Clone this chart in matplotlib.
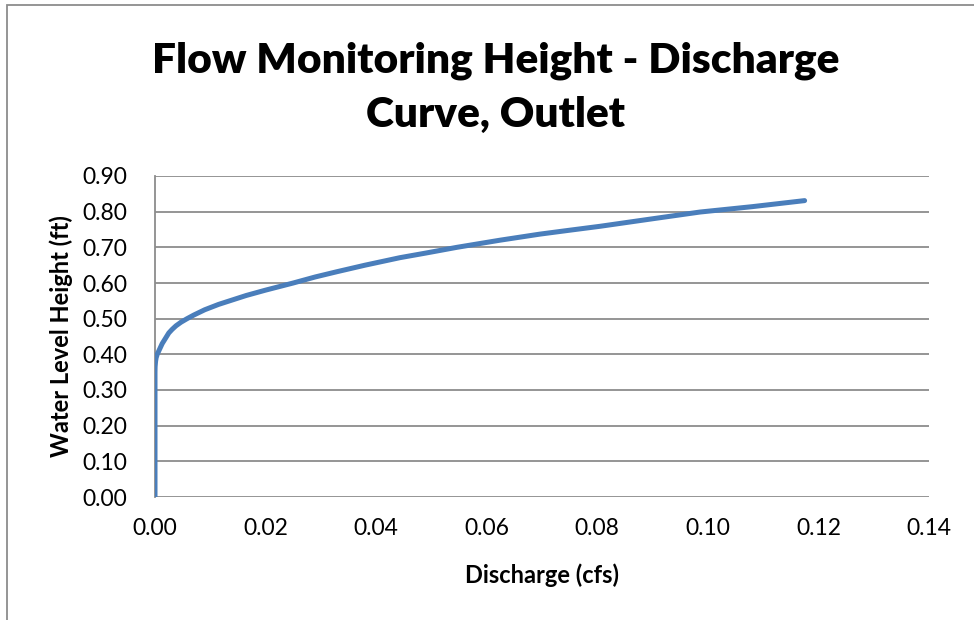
import matplotlib
matplotlib.use("Agg")
import matplotlib.pyplot as plt
from matplotlib.patches import Rectangle

# stage-discharge readings for the outlet
discharge = [0.0, 0.0, 0.00002, 0.0001, 0.0002, 0.0004, 0.0007, 0.0010, 0.0013,
             0.0017, 0.0021, 0.0025, 0.0031, 0.0038, 0.0047, 0.0058, 0.0070,
             0.0090, 0.0115, 0.0135, 0.0165, 0.0200, 0.0250, 0.0290, 0.0330,
             0.0380, 0.0443, 0.0490, 0.0546, 0.0624, 0.0696, 0.0750, 0.0805,
             0.0895, 0.0986, 0.1080, 0.1175]
height = [0.00, 0.35, 0.365, 0.38, 0.39, 0.40, 0.41, 0.42, 0.43,
          0.44, 0.45, 0.46, 0.47, 0.48, 0.49, 0.50, 0.51,
          0.525, 0.54, 0.55, 0.565, 0.58, 0.60, 0.617, 0.632,
          0.65, 0.671, 0.684, 0.70, 0.72, 0.737, 0.748, 0.759,
          0.779, 0.799, 0.814, 0.831]

xticks = [0.00, 0.02, 0.04, 0.06, 0.08, 0.10, 0.12, 0.14]
yticks = [0.0, 0.1, 0.2, 0.3, 0.4, 0.5, 0.6, 0.7, 0.8, 0.9]

plt.rcParams['font.family'] = ['Lato', 'DejaVu Sans']
grey = '#8c8c8c'

fig = plt.figure(figsize=(9.74, 6.2), dpi=100)
ax = fig.add_axes([155/974, 1 - 497/620, 774/974, 321/620])

ax.plot(discharge, height, color='#4a7ebb', lw=3.6, solid_capstyle='round',
        solid_joinstyle='round', zorder=3)

ax.set_xlim(0, 0.14)
ax.set_ylim(0, 0.9)
ax.set_xticks(xticks)
ax.set_yticks(yticks)
ax.set_xticklabels(['%.2f' % v for v in xticks])
ax.set_yticklabels(['%.2f' % v for v in yticks])
ax.tick_params(length=0, labelsize=16.5, colors='black')
ax.tick_params(axis='y', pad=20)
ax.tick_params(axis='x', pad=15)

ax.grid(axis='y', color=grey, lw=1.3)
ax.set_axisbelow(True)
for side in ['top', 'right', 'bottom']:
    ax.spines[side].set_visible(False)
ax.spines['left'].set_color(grey)
ax.spines['left'].set_linewidth(1.3)

ax.set_xlabel('Discharge (cfs)', fontsize=17, fontweight='bold')
ax.set_ylabel('Water Level Height (ft)', fontsize=17, fontweight='bold')
ax.xaxis.set_label_coords(0.5, -0.208)
ax.yaxis.set_label_coords(-0.106, 0.5)

fig.text(496/974, 1 - 88/620, 'Flow Monitoring Height - Discharge\nCurve, Outlet',
         ha='center', va='center', fontsize=30.5, fontweight='heavy', linespacing=1.52)

# chart area border
fig.patches.append(Rectangle((7/974, -0.1), 1.2, 1.1 - 5/620, transform=fig.transFigure,
                             fill=False, edgecolor=grey, lw=1.3))

fig.savefig('out.png', dpi=100)
